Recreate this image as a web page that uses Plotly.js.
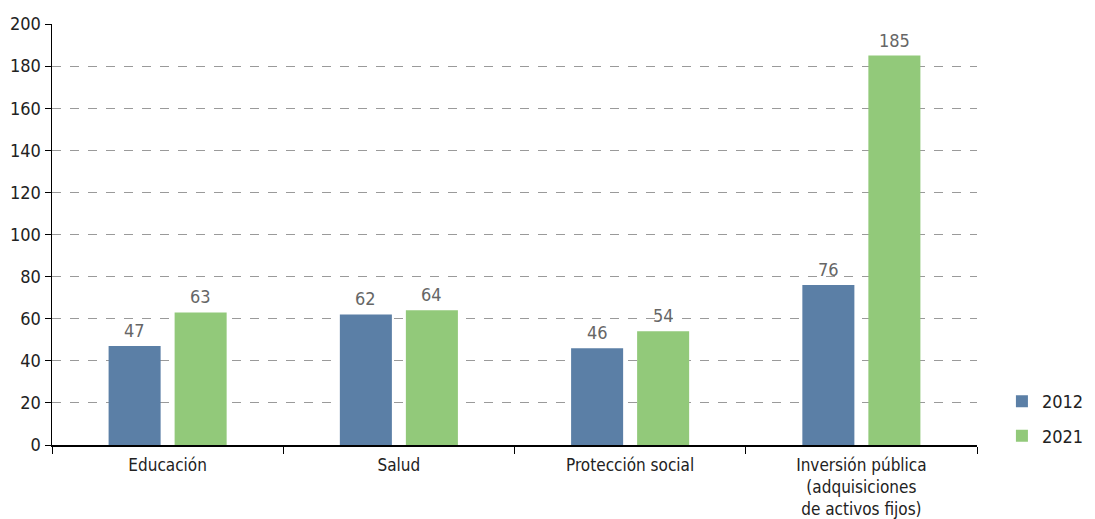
<!DOCTYPE html>
<html><head><meta charset="utf-8">
<script src="https://cdn.plot.ly/plotly-3.0.1.min.js"></script>
<style>html,body{margin:0;padding:0;background:#fff;}</style>
</head><body>
<div id="chart" style="width:1095px;height:519px;"></div>
<script>
const categories = ["Educación", "Salud", "Protección social", "Inversión pública<br>(adquisiciones<br>de activos fijos)"];
const values2012 = [47, 62, 46, 76];
const values2021 = [63, 64, 54, 185];
const yTicks = [0, 20, 40, 60, 80, 100, 120, 140, 160, 180, 200];

const FONT = "'Liberation Sans Narrow', 'DejaVu Sans Condensed', 'Roboto', sans-serif";
const LABEL_COLOR = '#666';

const traces = [
  {type: 'bar', name: '2012', x: categories, y: values2012, marker: {color: '#5b7fa6'},
   legendgroup: 'a', hoverinfo: 'none'},
  {type: 'bar', name: '2021', x: categories, y: values2021, marker: {color: '#92c97a'},
   legendgroup: 'b', hoverinfo: 'none'}
];

// value labels placed through the axes: offset per series inside each category group
const annotations = [];
[[values2012, -0.1427], [values2021, 0.1427]].forEach(([vals, off]) => {
  vals.forEach((v, i) => {
    annotations.push({x: i + off, y: v, xref: 'x', yref: 'y', text: String(v), showarrow: false,
      yanchor: 'bottom', yshift: 3, font: {size: 18, color: LABEL_COLOR, family: FONT}});
  });
});

const layout = {
  width: 1095, height: 519,
  margin: {l: 52, r: 118, t: 24, b: 74},
  paper_bgcolor: '#fff', plot_bgcolor: '#fff',
  font: {family: FONT, size: 17, color: '#222'},
  barmode: 'group', bargap: 0.429, bargroupgap: 0.212,
  showlegend: true,
  legend: {xref: 'container', yref: 'container', x: 0.915, xanchor: 'left', y: 0.125, yanchor: 'bottom',
           traceorder: 'grouped', tracegroupgap: 8, font: {size: 18, color: '#222', family: FONT},
           bgcolor: 'rgba(0,0,0,0)'},
  annotations: annotations,
  xaxis: {showline: true, linecolor: '#000', linewidth: 1.5, ticks: 'outside', tickson: 'boundaries',
          ticklen: 7, tickcolor: '#000', tickwidth: 1, showgrid: false, fixedrange: true,
          ticklabelstandoff: 4, tickfont: {size: 17, color: '#222', family: FONT}},
  yaxis: {range: [0, 200], tickvals: yTicks, ticktext: yTicks.map(String), showline: true,
          linecolor: '#000', linewidth: 1.5, ticks: 'outside', ticklen: 6, tickcolor: '#000',
          showgrid: true, gridcolor: '#9a9a9a', griddash: 'dash', gridwidth: 1, zeroline: false,
          tickfont: {size: 18, color: '#222', family: FONT}, fixedrange: true}
};

Plotly.newPlot('chart', traces, layout, {displayModeBar: false, staticPlot: true});
</script>
</body></html>
